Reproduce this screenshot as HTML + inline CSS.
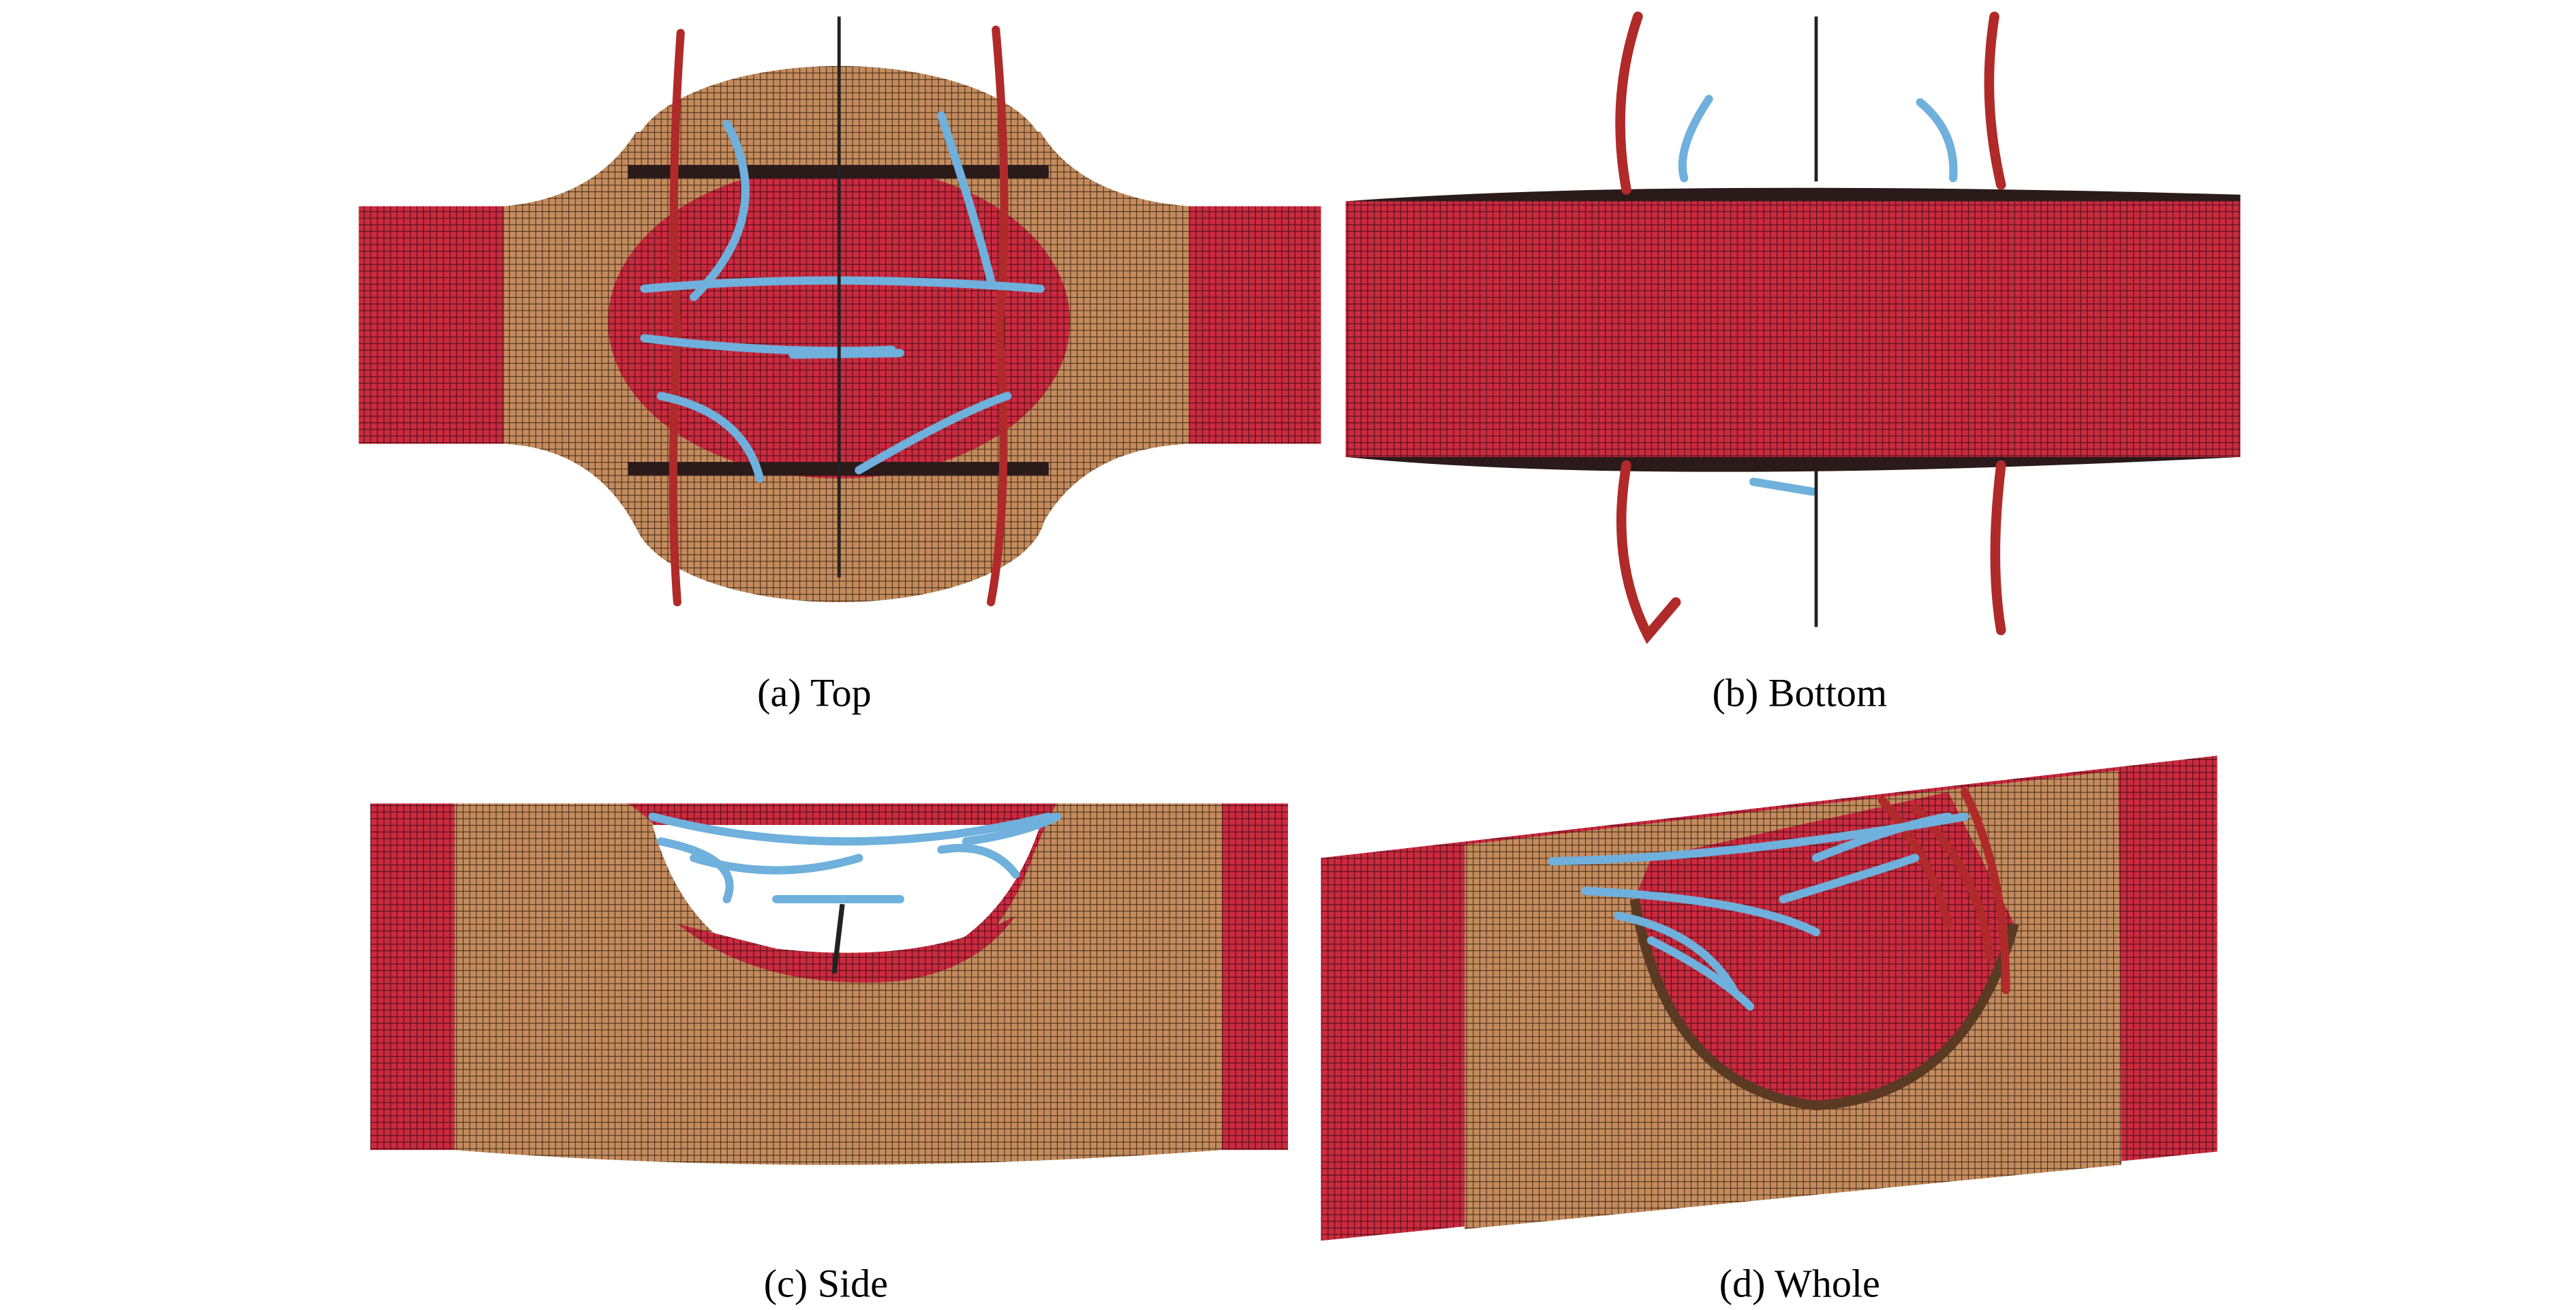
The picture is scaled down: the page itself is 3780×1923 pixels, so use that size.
<!DOCTYPE html>
<html><head><meta charset="utf-8"><style>
html,body{margin:0;padding:0;background:#fff;}
svg{display:block;}
</style></head><body>
<svg width="3780" height="1923" viewBox="0 0 1560 794" xmlns="http://www.w3.org/2000/svg">
<defs>
<pattern id="rg" width="4" height="4" patternUnits="userSpaceOnUse">
<rect width="4" height="4" fill="#cc2a40"/><path d="M0 0H4M0 0V4" stroke="#551218" stroke-width="1"/>
</pattern>
<pattern id="bg" width="4" height="4" patternUnits="userSpaceOnUse">
<rect width="4" height="4" fill="#c48c5e"/><path d="M0 0H4M0 0V4" stroke="#4a2e18" stroke-width="0.9"/>
</pattern>
</defs>

<!-- (a) Top -->
<rect x="217" y="125" width="583" height="144" fill="url(#rg)"/>
<path d="M305 125 Q360 120 385 80 L630 80 Q655 120 720 125 L720 269 Q655 272 630 320 L385 320 Q360 272 305 269 Z" fill="url(#bg)"/>
<ellipse cx="508" cy="95" rx="125" ry="55" fill="url(#bg)"/>
<ellipse cx="508" cy="310" rx="125" ry="55" fill="url(#bg)"/>
<ellipse cx="508" cy="195" rx="140" ry="95" fill="url(#rg)"/>
<rect x="380" y="100" width="255" height="8" fill="#2a1a1a"/>
<rect x="380" y="280" width="255" height="8" fill="#2a1a1a"/>
<g stroke="#b02a2a" stroke-width="5" fill="none" stroke-linecap="round">
<path d="M412 20 Q405 120 410 200 Q405 300 410 365"/>
<path d="M603 18 Q612 120 605 200 Q612 300 600 365"/>
</g>
<g stroke="#6fb0dc" stroke-width="5" fill="none" stroke-linecap="round">
<path d="M440 75 Q470 130 420 180"/><path d="M570 70 Q590 130 600 170"/>
<path d="M390 175 Q500 165 630 175"/><path d="M390 205 Q470 215 540 212"/>
<path d="M480 215 L545 214"/><path d="M400 240 Q450 250 460 290"/>
<path d="M520 285 Q580 250 610 240"/>
</g>
<line x1="508" y1="10" x2="508" y2="350" stroke="#222" stroke-width="2"/>

<!-- (b) Bottom -->
<path d="M815 122 Q1000 108 1357 118 L1357 277 Q1000 295 815 277 Z" fill="#2a1a1a"/>
<rect x="815" y="122" width="542" height="155" fill="url(#rg)"/>
<g stroke="#b02a2a" stroke-width="6" fill="none" stroke-linecap="round">
<path d="M992 10 Q975 60 985 115"/><path d="M1208 10 Q1200 60 1212 112"/>
<path d="M985 282 Q975 340 998 385 L1015 365"/><path d="M1212 282 Q1205 340 1212 382"/>
</g>
<g stroke="#6fb0dc" stroke-width="5" fill="none" stroke-linecap="round">
<path d="M1035 60 Q1015 90 1020 108"/><path d="M1163 62 Q1185 80 1183 108"/>
<path d="M1062 292 L1098 298"/>
</g>
<line x1="1100" y1="10" x2="1100" y2="110" stroke="#222" stroke-width="2"/>
<line x1="1100" y1="285" x2="1100" y2="380" stroke="#222" stroke-width="2"/>

<!-- (c) Side -->
<rect x="224" y="487" width="556" height="210" fill="url(#rg)"/>
<path d="M275 487 L380 487 Q400 500 410 520 Q470 600 540 595 Q600 590 625 520 Q635 495 640 487 L740 487 L740 697 Q500 715 275 697 Z" fill="url(#bg)"/>
<path d="M395 500 Q420 590 505 592 Q600 590 630 500" fill="#fff"/>
<path d="M410 560 Q460 600 540 595 Q590 590 615 555 Q560 585 470 575 Z" fill="url(#rg)"/>
<g stroke="#6fb0dc" stroke-width="5" fill="none" stroke-linecap="round">
<path d="M395 495 Q510 525 635 495"/><path d="M400 510 Q450 520 440 545"/>
<path d="M420 520 Q470 535 520 520"/><path d="M470 545 L545 545"/>
<path d="M570 515 Q600 510 615 530"/><path d="M585 510 Q620 505 640 495"/>
</g>
<line x1="510" y1="548" x2="505" y2="590" stroke="#222" stroke-width="3"/>

<!-- (d) Whole -->
<path d="M800 520 L1343 458 L1343 698 L800 752 Z" fill="url(#rg)"/>
<path d="M887 512 L1283 467 L1285 706 L887 745 Z" fill="url(#bg)"/>
<path d="M990 545 Q1010 660 1100 670 Q1190 665 1220 560 L1180 480 L1000 520 Z" fill="url(#rg)"/>
<path d="M990 545 Q1010 660 1100 670 Q1190 665 1220 560" fill="none" stroke="#5a3a22" stroke-width="6"/>
<g stroke="#b02a2a" stroke-width="5" fill="none" stroke-linecap="round">
<path d="M1140 485 Q1170 520 1180 560"/><path d="M1160 490 Q1200 530 1205 580"/>
<path d="M1190 480 Q1215 530 1215 600"/>
</g>
<g stroke="#6fb0dc" stroke-width="5" fill="none" stroke-linecap="round">
<path d="M940 522 Q1050 520 1190 495"/><path d="M960 540 Q1060 545 1100 565"/>
<path d="M980 555 Q1030 565 1050 600"/><path d="M1000 570 Q1040 590 1060 610"/>
<path d="M1100 520 Q1150 500 1180 495"/><path d="M1080 545 Q1130 530 1160 520"/>
</g>

<g font-family="Liberation Serif, serif" font-size="24" fill="#000" text-anchor="middle">
<text x="493" y="428">(a) Top</text>
<text x="1090" y="428">(b) Bottom</text>
<text x="500" y="786">(c) Side</text>
<text x="1090" y="786">(d) Whole</text>
</g>
</svg>
</body></html>
